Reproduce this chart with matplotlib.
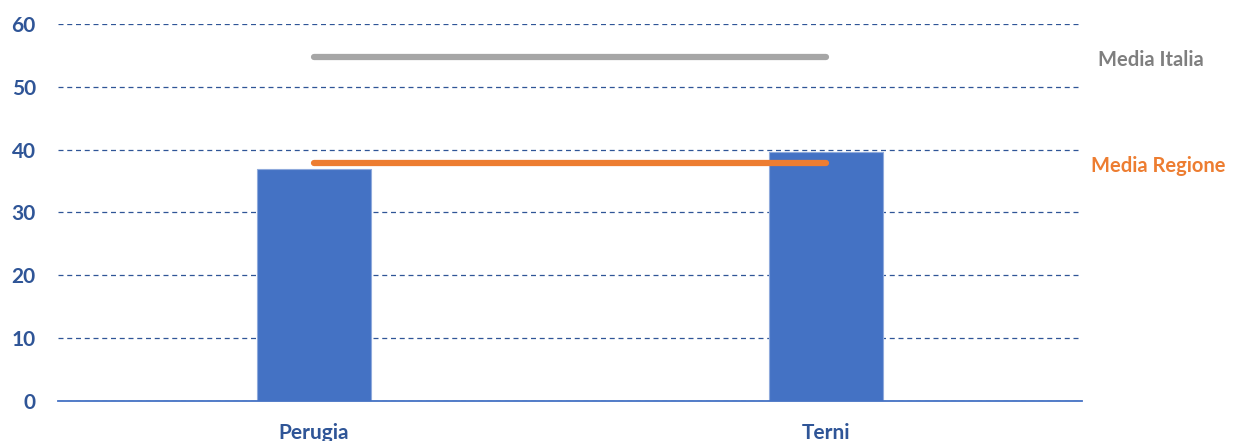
import numpy as np
import matplotlib.pyplot as plt

plt.rcParams['font.family'] = ['Lato', 'DejaVu Sans']

province = ['Perugia', 'Terni']
valori = [37.0, 39.6]
media_italia = 54.7
media_regione = 37.8
y_ticks = [0, 10, 20, 30, 40, 50, 60]

blu = '#4472C4'
blu_scuro = '#2F5597'
grigio = '#A6A6A6'
arancio = '#ED7D31'

fig = plt.figure(figsize=(12.42, 4.41), dpi=100)
ax = fig.add_axes([0.0467, 0.0907, 0.8245, 0.8549])

x = np.arange(len(province))
ax.bar(x, valori, width=0.222, color=blu, edgecolor='#8FAADC', linewidth=0.8, zorder=3)

# linee delle medie, dal centro della prima barra al centro dell'ultima
ax.plot([x[0], x[-1]], [media_italia] * 2, color=grigio, lw=4.5,
        solid_capstyle='round', zorder=4)
ax.plot([x[0], x[-1]], [media_regione] * 2, color=arancio, lw=4.5,
        solid_capstyle='round', zorder=4)

ax.text(1.0156, media_italia - 0.4, 'Media Italia', transform=ax.get_yaxis_transform(),
        color='#7F7F7F', fontsize=14.5, fontweight='bold', va='center', ha='left')
ax.text(1.0088, media_regione - 0.4, 'Media Regione', transform=ax.get_yaxis_transform(),
        color=arancio, fontsize=14.5, fontweight='bold', va='center', ha='left')

ax.set_xlim(-0.5, 1.5)
ax.set_ylim(0, 60)
ax.set_yticks(y_ticks)
ax.set_xticks(x)
ax.set_xticklabels(province)

ax.grid(axis='y', color=blu_scuro, linestyle=(0, (4, 3)), linewidth=0.9, zorder=0)
for s in ['top', 'right', 'left']:
    ax.spines[s].set_visible(False)
ax.spines['bottom'].set_color(blu)
ax.spines['bottom'].set_linewidth(1.3)
ax.spines['bottom'].set_zorder(5)

ax.tick_params(axis='both', length=0, colors=blu_scuro, labelsize=15)
ax.tick_params(axis='y', pad=16)
ax.tick_params(axis='x', pad=16)
for lab in ax.get_xticklabels() + ax.get_yticklabels():
    lab.set_fontweight('bold')
for lab in ax.get_yticklabels():
    lab.set_horizontalalignment('right')

fig.savefig('out.png', dpi=100)
